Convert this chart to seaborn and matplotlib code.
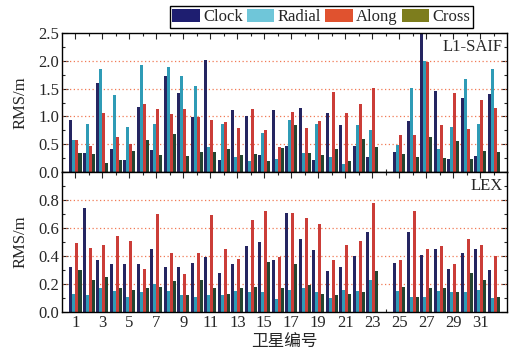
import numpy as np
import pandas as pd
import seaborn as sns
import matplotlib.pyplot as plt
from matplotlib.patches import Patch
from matplotlib.ticker import MultipleLocator, FixedLocator

# satellite 24 has no data
sats = list(range(1, 24)) + list(range(25, 33))

saif_clock = [0.94, 0.34, 1.60, 0.42, 0.22, 1.17, 0.39, 1.73, 1.42, 0.99, 2.02, 0.21, 1.11, 1.01, 0.30, 1.12,
              0.47, 1.15, 0.21, 1.07, 0.85, 0.46, 0.27, 0.36, 0.92, 2.60, 1.46, 0.23, 1.34, 0.29, 1.41]
saif_radial = [0.57, 0.87, 1.86, 1.39, 0.81, 1.93, 0.86, 1.88, 1.73, 1.55, 0.45, 0.87, 0.27, 0.19, 0.70, 0.23,
               0.93, 0.34, 0.87, 0.27, 0.15, 0.85, 0.75, 0.49, 1.51, 1.99, 0.42, 0.81, 1.67, 0.86, 1.85]
saif_along = [0.58, 0.47, 1.07, 0.63, 0.51, 1.23, 1.14, 1.05, 1.13, 0.99, 0.93, 0.90, 0.79, 1.13, 0.75, 0.45,
              1.08, 0.80, 0.92, 1.44, 1.06, 1.22, 1.52, 0.67, 0.66, 1.97, 0.84, 1.43, 0.78, 1.29, 1.16]
saif_cross = [0.35, 0.32, 0.17, 0.21, 0.37, 0.58, 0.30, 0.69, 0.29, 0.36, 0.36, 0.42, 0.30, 0.33, 0.19, 0.44,
              0.85, 0.35, 0.31, 0.42, 0.19, 0.60, 0.45, 0.32, 0.27, 0.63, 0.25, 0.56, 0.24, 0.38, 0.36]

lex_clock = [0.32, 0.74, 0.37, 0.34, 0.34, 0.34, 0.45, 0.32, 0.32, 0.35, 0.39, 0.28, 0.34, 0.47, 0.50, 0.37,
             0.71, 0.52, 0.44, 0.29, 0.32, 0.40, 0.57, 0.35, 0.57, 0.41, 0.45, 0.31, 0.42, 0.45, 0.30]
lex_radial = [0.13, 0.12, 0.17, 0.15, 0.11, 0.14, 0.20, 0.15, 0.12, 0.11, 0.12, 0.12, 0.15, 0.14, 0.14, 0.09,
              0.16, 0.17, 0.14, 0.10, 0.16, 0.15, 0.23, 0.15, 0.11, 0.11, 0.15, 0.14, 0.14, 0.16, 0.10]
lex_along = [0.49, 0.46, 0.48, 0.54, 0.51, 0.31, 0.70, 0.42, 0.27, 0.42, 0.69, 0.45, 0.38, 0.66, 0.72, 0.39,
             0.71, 0.67, 0.63, 0.37, 0.48, 0.51, 0.78, 0.37, 0.72, 0.45, 0.47, 0.34, 0.52, 0.48, 0.40]
lex_cross = [0.30, 0.23, 0.25, 0.17, 0.16, 0.17, 0.18, 0.22, 0.12, 0.23, 0.17, 0.13, 0.17, 0.18, 0.36, 0.17,
             0.34, 0.19, 0.13, 0.12, 0.13, 0.14, 0.29, 0.18, 0.11, 0.17, 0.17, 0.14, 0.28, 0.23, 0.11]

components = ["Clock", "Radial", "Along", "Cross"]
bar_colors = ["#1b1b6b", "#19a9cc", "#e3261f", "#1e4a30"]
legend_colors = ["#1e1e70", "#6fc6d9", "#e0522f", "#7d7d1d"]


def make_df(clock, radial, along, cross):
    frames = []
    for name, vals in zip(components, [clock, radial, along, cross]):
        frames.append(pd.DataFrame({"sat": sats, "comp": name, "rms": vals}))
    return pd.concat(frames, ignore_index=True)


sns.set_style("ticks")
plt.rcParams["font.family"] = ["Liberation Serif", "Noto Sans CJK SC", "DejaVu Sans"]
plt.rcParams["font.size"] = 12

fig = plt.figure(figsize=(5.25, 3.61), dpi=100)
ax1 = fig.add_axes([0.118, 0.5235, 0.848, 0.385])
ax2 = fig.add_axes([0.118, 0.1357, 0.848, 0.388])

order = list(range(1, 33))
panels = [
    (ax1, make_df(saif_clock, saif_radial, saif_along, saif_cross), "L1-SAIF", 2.5, 0.5),
    (ax2, make_df(lex_clock, lex_radial, lex_along, lex_cross), "LEX", 1.0, 0.2),
]

for ax, df, label, ymax, step in panels:
    sns.barplot(data=df, x="sat", y="rms", hue="comp", order=order, hue_order=components,
                palette=bar_colors, width=0.9, gap=0, linewidth=0, errorbar=None,
                legend=False, ax=ax, zorder=2)
    ax.set_xlim(-1, 32)
    ax.set_ylim(0, ymax)
    ax.yaxis.set_major_locator(MultipleLocator(step))
    ax.yaxis.set_minor_locator(MultipleLocator(step / 2))
    ax.xaxis.set_major_locator(FixedLocator(list(range(0, 32, 2))))
    ax.xaxis.set_minor_locator(FixedLocator(list(range(0, 32))))
    ax.set_ylabel("RMS/m", fontsize=12)
    ax.set_xlabel("")
    ax.tick_params(which="both", direction="in", top=True, right=True, width=0.8,
                   labelsize=12, pad=2)
    ax.tick_params(which="major", length=4)
    ax.tick_params(which="minor", length=2)
    for s in ax.spines.values():
        s.set_linewidth(1.0)
        s.set_color("black")
    for yv in np.arange(step, ymax - step / 2, step):
        ax.axhline(yv, color="#f07a55", linestyle=(0, (1, 2)), linewidth=0.9, zorder=1)
    ax.text(0.99, 0.9, label, transform=ax.transAxes, ha="right", va="center", fontsize=12)

ax1.set_xticklabels([])
ax1.yaxis.set_major_formatter(plt.FuncFormatter(lambda v, p: f"{v:.1f}"))
ax2.set_yticks([0.0, 0.2, 0.4, 0.6, 0.8])
ax2.yaxis.set_major_formatter(plt.FuncFormatter(lambda v, p: f"{v:.1f}"))
ax2.set_xticklabels([str(i) for i in range(1, 33, 2)])
ax2.set_xlabel("卫星编号", fontsize=12, family=["Noto Sans CJK SC"], labelpad=2)
ax1.yaxis.set_label_coords(-0.075, 0.5)
ax2.yaxis.set_label_coords(-0.075, 0.5)

handles = [Patch(facecolor=c, edgecolor="none") for c in legend_colors]
fig.legend(handles, components, loc="center", bbox_to_anchor=(0.612, 0.953), ncol=4,
           frameon=True, fancybox=False, edgecolor="black", framealpha=1,
           fontsize=12, handlelength=1.65, handleheight=0.8, handletextpad=0.2,
           columnspacing=0.25, borderpad=0.15, borderaxespad=0)

fig.savefig("out.png", dpi=100)
